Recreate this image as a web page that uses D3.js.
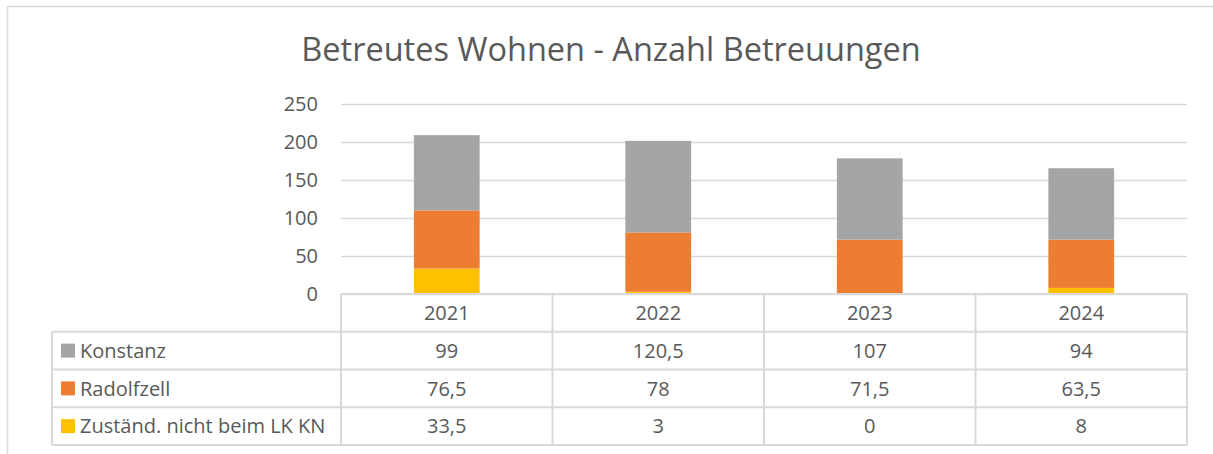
<!DOCTYPE html>
<html>
<head>
<meta charset="utf-8">
<script src="https://cdn.jsdelivr.net/npm/d3@7"></script>
<style>
  body { margin: 0; background: #fff; }
  text { font-family: "Open Sans", sans-serif; fill: #595959; }
</style>
</head>
<body>
<div id="chart"></div>
<script>
// data
var years = ['2021', '2022', '2023', '2024'];
var konstanz = [99, 120.5, 107, 94];
var radolfzell = [76.5, 78, 71.5, 63.5];
var zustaend = [33.5, 3, 0, 8];
var series_names = ['Konstanz', 'Radolfzell', 'Zuständ. nicht beim LK KN'];
var y_ticks = [0, 50, 100, 150, 200, 250];

var colors = {
	'Konstanz': '#A5A5A5',
	'Radolfzell': '#ED7D31',
	'Zuständ. nicht beim LK KN': '#FFC000'
};
var series_values = {
	'Konstanz': konstanz,
	'Radolfzell': radolfzell,
	'Zuständ. nicht beim LK KN': zustaend
};

var chart_width = 1213;
var chart_height = 454;
var plot_left = 341, plot_right = 1187;
var plot_top = 104, plot_bottom = 294;
var table_left = 52, table_bottom = 445;
var table_font = 20;

var svg = d3.select('#chart')
		.append('svg')
		.attr('width', chart_width)
		.attr('height', chart_height);

// outer chart frame
svg.append('rect')
		.attr('x', 7.5).attr('y', 6.5)
		.attr('width', 1230).attr('height', 470)
		.attr('fill', 'none')
		.attr('stroke', '#D9D9D9')
		.attr('stroke-width', 1.5);

// title
svg.append('text')
		.attr('x', 611).attr('y', 61)
		.attr('text-anchor', 'middle')
		.attr('font-size', 32.5)
		.text('Betreutes Wohnen - Anzahl Betreuungen');

// scales
var x_scale = d3.scaleBand()
		.domain(years)
		.range([plot_left, plot_right])
		.paddingInner(0.689)
		.paddingOuter(0.3445);

var col_scale = d3.scaleBand()
		.domain(years)
		.range([plot_left, plot_right]);

var y_scale = d3.scaleLinear()
		.domain([0, 250])
		.range([plot_bottom, plot_top]);

// gridlines + y labels
var y_axis = d3.axisLeft(y_scale)
		.tickValues(y_ticks)
		.tickSize(-(plot_right - plot_left))
		.tickPadding(23);

var y_g = svg.append('g')
		.attr('transform', 'translate(' + plot_left + ',0)')
		.call(y_axis);
y_g.select('.domain').remove();
y_g.selectAll('line').attr('stroke', '#D9D9D9').attr('stroke-width', 1.5);
y_g.selectAll('text')
		.attr('font-size', 20)
		.attr('font-family', '"Open Sans", sans-serif')
		.attr('fill', '#595959');

// stacked bars
var table_data = years.map(function(y, i){
	var row = { year: y };
	series_names.forEach(function(s){ row[s] = series_values[s][i]; });
	return row;
});

var stack = d3.stack().keys(series_names.slice().reverse());
var layers = stack(table_data);

svg.selectAll('g.layer')
		.data(layers)
		.enter()
		.append('g')
		.attr('class', 'layer')
		.attr('fill', function(d){ return colors[d.key]; })
		.selectAll('rect')
		.data(function(d){ return d; })
		.enter()
		.append('rect')
		.attr('x', function(d){ return x_scale(d.data.year); })
		.attr('y', function(d){ return y_scale(d[1]); })
		.attr('width', x_scale.bandwidth())
		.attr('height', function(d){ return y_scale(d[0]) - y_scale(d[1]); });

// data table
var n_rows = series_names.length + 1;
var row_scale = d3.scaleBand()
		.domain(d3.range(n_rows))
		.range([plot_bottom, table_bottom]);
var rh = row_scale.bandwidth();

var grid = svg.append('g')
		.attr('stroke', '#D9D9D9')
		.attr('stroke-width', 2);

// horizontal lines
grid.append('line')
		.attr('x1', plot_left).attr('x2', plot_right)
		.attr('y1', plot_bottom).attr('y2', plot_bottom);
d3.range(1, n_rows + 1).forEach(function(r){
	var yy = plot_bottom + r * rh;
	grid.append('line')
			.attr('x1', table_left).attr('x2', plot_right)
			.attr('y1', yy).attr('y2', yy);
});

// vertical lines
grid.append('line')
		.attr('x1', table_left).attr('x2', table_left)
		.attr('y1', plot_bottom + rh).attr('y2', table_bottom);
years.forEach(function(y){
	grid.append('line')
			.attr('x1', col_scale(y)).attr('x2', col_scale(y))
			.attr('y1', plot_bottom).attr('y2', table_bottom);
});
grid.append('line')
		.attr('x1', plot_right).attr('x2', plot_right)
		.attr('y1', plot_bottom).attr('y2', table_bottom);

// year header
svg.selectAll('text.year')
		.data(years)
		.enter()
		.append('text')
		.attr('class', 'year')
		.attr('x', function(d){ return col_scale(d) + col_scale.bandwidth() / 2; })
		.attr('y', row_scale(0) + rh / 2)
		.attr('dy', '0.36em')
		.attr('text-anchor', 'middle')
		.attr('font-size', table_font)
		.text(function(d){ return d; });

// series rows
var fmt = function(v){ return String(v).replace('.', ','); };

series_names.forEach(function(s, i){
	var yc = row_scale(i + 1) + rh / 2;
	svg.append('rect')
			.attr('x', 61).attr('y', yc - 7)
			.attr('width', 14).attr('height', 14)
			.attr('fill', colors[s]);
	svg.append('text')
			.attr('x', 80).attr('y', yc)
			.attr('dy', '0.36em')
			.attr('font-size', table_font)
			.text(s);
	svg.selectAll('text.v' + i)
			.data(series_values[s])
			.enter()
			.append('text')
			.attr('class', 'v' + i)
			.attr('x', function(d, j){ return col_scale(years[j]) + col_scale.bandwidth() / 2; })
			.attr('y', yc)
			.attr('dy', '0.36em')
			.attr('text-anchor', 'middle')
			.attr('font-size', table_font)
			.text(function(d){ return fmt(d); });
});
</script>
</body>
</html>
